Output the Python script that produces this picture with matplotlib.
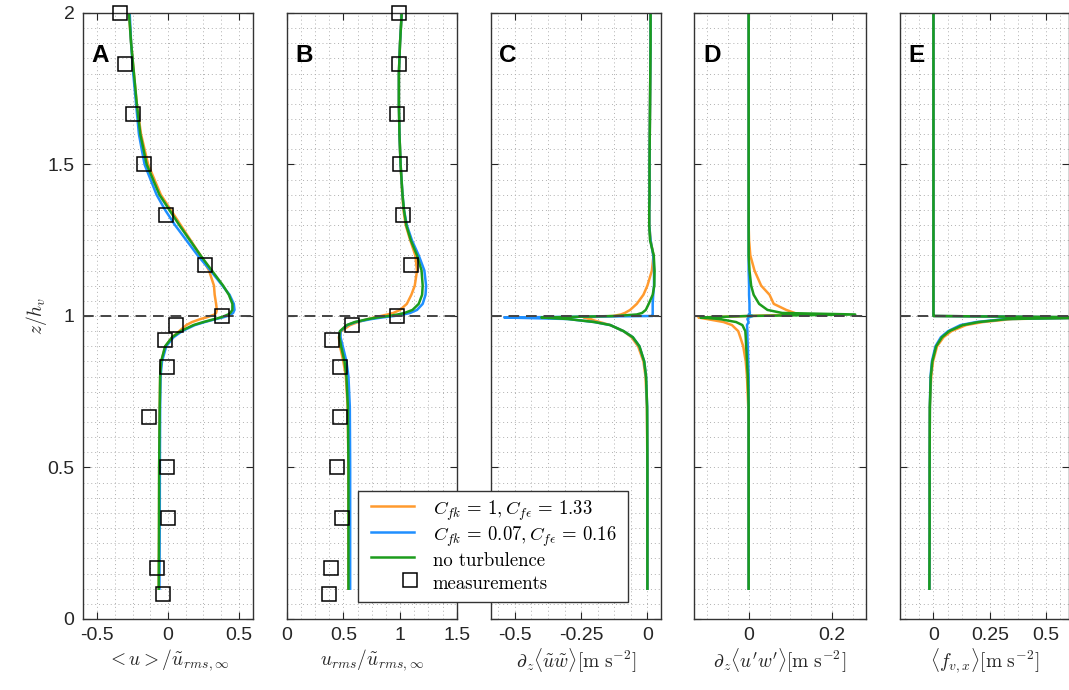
import numpy as np
import matplotlib
matplotlib.use("Agg")
import matplotlib.pyplot as plt
from matplotlib.ticker import MultipleLocator
from matplotlib.lines import Line2D
from matplotlib.patches import Rectangle
from matplotlib.legend_handler import HandlerLine2DCompound

plt.rcParams['mathtext.fontset'] = 'cm'
plt.rcParams['font.family'] = ['Liberation Sans', 'DejaVu Sans']

# heights shared by all simulated profiles
z_prof = [0.1, 0.3, 0.5, 0.7, 0.8, 0.85, 0.9, 0.93, 0.95, 0.97, 0.98, 0.99, 0.995, 1.0,
          1.005, 1.01, 1.02, 1.04, 1.07, 1.1, 1.15, 1.2, 1.25, 1.3, 1.35, 1.4, 1.5, 1.6,
          1.7, 1.8, 1.9, 2.0]

# panel A: mean velocity
a_orange = [-0.065, -0.063, -0.062, -0.058, -0.055, -0.047, -0.018, 0.03, 0.08, 0.13, 0.17, 0.23, 0.27, 0.30,
            0.33, 0.34, 0.345, 0.34, 0.33, 0.325, 0.29, 0.23, 0.16, 0.09, 0.02, -0.05, -0.14, -0.19,
            -0.22, -0.24, -0.26, -0.275]
a_blue = [-0.06, -0.058, -0.057, -0.055, -0.052, -0.042, -0.012, 0.04, 0.10, 0.19, 0.26, 0.34, 0.385, 0.42,
          0.445, 0.46, 0.47, 0.465, 0.435, 0.385, 0.30, 0.21, 0.13, 0.05, -0.02, -0.08, -0.165, -0.205,
          -0.225, -0.245, -0.26, -0.27]
a_green = [-0.065, -0.063, -0.062, -0.058, -0.055, -0.048, -0.02, 0.03, 0.09, 0.18, 0.25, 0.33, 0.37, 0.40,
           0.425, 0.44, 0.455, 0.455, 0.43, 0.39, 0.31, 0.23, 0.155, 0.08, 0.01, -0.06, -0.15, -0.195,
           -0.22, -0.24, -0.26, -0.275]

# panel B: rms velocity
b_orange = [0.545, 0.545, 0.545, 0.538, 0.522, 0.50, 0.47, 0.46, 0.48, 0.56, 0.63, 0.72, 0.77, 0.83,
            0.89, 0.94, 1.0, 1.06, 1.10, 1.13, 1.15, 1.135, 1.09, 1.05, 1.03, 1.02, 1.005, 0.995,
            0.99, 0.99, 1.0, 1.015]
b_blue = [0.56, 0.56, 0.56, 0.557, 0.545, 0.527, 0.495, 0.475, 0.475, 0.535, 0.61, 0.75, 0.84, 0.95,
          1.03, 1.09, 1.15, 1.20, 1.225, 1.23, 1.215, 1.165, 1.105, 1.06, 1.035, 1.022, 1.005, 0.995,
          0.99, 0.99, 1.0, 1.015]
b_green = [0.545, 0.545, 0.545, 0.54, 0.527, 0.51, 0.48, 0.465, 0.47, 0.53, 0.60, 0.72, 0.80, 0.90,
           0.98, 1.04, 1.11, 1.165, 1.195, 1.20, 1.19, 1.15, 1.095, 1.055, 1.035, 1.022, 1.005, 0.995,
           0.99, 0.99, 1.0, 1.015]

# panel C: dispersive stress gradient
c_orange = [0.0, 0.0, 0.0, -0.002, -0.007, -0.015, -0.035, -0.06, -0.09, -0.14, -0.18, -0.22, -0.24, -0.13,
            -0.10, -0.085, -0.065, -0.04, -0.015, 0.0, 0.017, 0.023, 0.012, 0.007, 0.007, 0.008, 0.008, 0.009,
            0.01, 0.011, 0.012, 0.012]
c_blue = [0.0, 0.0, 0.0, -0.001, -0.005, -0.012, -0.03, -0.055, -0.09, -0.14, -0.2, -0.3, -0.54, 0.02,
          0.02, 0.02, 0.02, 0.02, 0.022, 0.025, 0.025, 0.022, 0.012, 0.007, 0.007, 0.008, 0.008, 0.009,
          0.01, 0.011, 0.012, 0.012]
c_green = [0.0, 0.0, 0.0, -0.001, -0.005, -0.012, -0.03, -0.055, -0.09, -0.14, -0.2, -0.3, -0.40, -0.12,
           -0.04, -0.02, -0.006, 0.005, 0.02, 0.026, 0.027, 0.024, 0.01, 0.007, 0.007, 0.008, 0.008, 0.009,
           0.01, 0.011, 0.012, 0.012]

# panel D: turbulent stress gradient
d_orange = [0.0, 0.0, 0.0, -0.001, -0.004, -0.007, -0.013, -0.02, -0.025, -0.04, -0.06, -0.10, -0.12, 0.0,
            0.12, 0.11, 0.09, 0.06, 0.05, 0.03, 0.014, 0.004, 0.001, 0.0, 0.0, 0.0, 0.0, 0.0,
            0.0, 0.0, 0.0, 0.0]
d_blue = [0.0, 0.0, 0.0, 0.0, 0.0, -0.001, -0.002, -0.003, -0.003, -0.004, 0.0, -0.003, 0.0, 0.01,
          0.0, 0.003, 0.002, 0.002, 0.001, 0.001, 0.0, 0.0, 0.0, 0.0, 0.0, 0.0, 0.0, 0.0,
          0.0, 0.0, 0.0, 0.0]
d_green = [0.0, 0.0, 0.0, 0.0, -0.002, -0.004, -0.006, -0.007, -0.008, -0.015, -0.03, -0.07, -0.115, 0.0,
           0.255, 0.08, 0.045, 0.025, 0.012, 0.006, 0.002, 0.0, 0.0, 0.0, 0.0, 0.0, 0.0, 0.0,
           0.0, 0.0, 0.0, 0.0]

# panel E: vegetation drag
e_orange = [-0.018, -0.017, -0.017, -0.016, -0.01, -0.002, 0.016, 0.045, 0.08, 0.145, 0.22, 0.35, 0.75, 0.0,
            0.0, 0.0, 0.0, 0.0, 0.0, 0.0, 0.0, 0.0, 0.0, 0.0, 0.0, 0.0, 0.0, 0.0,
            0.0, 0.0, 0.0, 0.0]
e_blue = [-0.018, -0.017, -0.017, -0.016, -0.013, -0.007, 0.009, 0.033, 0.065, 0.12, 0.19, 0.32, 0.75, 0.0,
          0.0, 0.0, 0.0, 0.0, 0.0, 0.0, 0.0, 0.0, 0.0, 0.0, 0.0, 0.0, 0.0, 0.0,
          0.0, 0.0, 0.0, 0.0]
e_green = [-0.018, -0.017, -0.017, -0.016, -0.012, -0.005, 0.012, 0.038, 0.07, 0.13, 0.20, 0.33, 0.75, 0.0,
           0.0, 0.0, 0.0, 0.0, 0.0, 0.0, 0.0, 0.0, 0.0, 0.0, 0.0, 0.0, 0.0, 0.0,
           0.0, 0.0, 0.0, 0.0]

# measurements
z_meas = [2.0, 1.833, 1.667, 1.5, 1.333, 1.167, 1.0, 0.97, 0.92, 0.833, 0.667, 0.5, 0.333, 0.167, 0.083]
u_meas = [-0.34, -0.30, -0.245, -0.17, -0.015, 0.265, 0.385, 0.06, -0.02, -0.01, -0.135, -0.01, 0.0, -0.075, -0.035]
urms_meas = [0.99, 0.99, 0.976, 1.0, 1.024, 1.10, 0.976, 0.574, 0.40, 0.47, 0.47, 0.447, 0.49, 0.39, 0.376]

panel_names = ['A', 'B', 'C', 'D', 'E']
xlabels = [r'$<u>/\tilde{u}_{rms,\infty}$',
           r'$u_{rms}/\tilde{u}_{rms,\infty}$',
           r'$\partial_z\langle\tilde{u}\tilde{w}\rangle[\mathrm{m\ s^{-2}}]$',
           r"$\partial_z\langle u'w'\rangle[\mathrm{m\ s^{-2}}]$",
           r'$\langle f_{v,x}\rangle[\mathrm{m\ s^{-2}}]$']
xlims = [(-0.6, 0.6), (0, 1.5), (-0.59, 0.05), (-0.13, 0.28), (-0.15, 0.6)]
xticks = [[-0.5, 0, 0.5], [0, 0.5, 1, 1.5], [-0.5, -0.25, 0], [0, 0.2], [0, 0.25, 0.5]]
xticklabels = [['-0.5', '0', '0.5'], ['0', '0.5', '1', '1.5'], ['-0.5', '-0.25', '0'], ['0', '0.2'], ['0', '0.25', '0.5']]
xminor = [0.125, 0.125, 0.0625, 0.05, 0.0625]
yticks = [0, 0.5, 1, 1.5, 2]
yticklabels = ['0', '0.5', '1', '1.5', '2']

orange = '#FF9A2E'
blue = '#1F8FFF'
green = '#1C9C1C'

curves = [(a_orange, a_blue, a_green), (b_orange, b_blue, b_green), (c_orange, c_blue, c_green),
          (d_orange, d_blue, d_green), (e_orange, e_blue, e_green)]
lefts = [0.0776, 0.2682, 0.4593, 0.6495, 0.8416]
widths = [0.1590, 0.1590, 0.1587, 0.1603, 0.1580]

fig = plt.figure(figsize=(10.69, 6.90), dpi=100)
tc = '#262626'
axes = []
for i in range(5):
    ax = fig.add_axes([lefts[i], 0.1029, widths[i], 0.8783])
    axes.append(ax)
    co, cb, cg = curves[i]
    ax.plot(co, z_prof, color=orange, lw=1.8)
    ax.plot(cb, z_prof, color=blue, lw=1.8)
    ax.plot(cg, z_prof, color=green, lw=1.8)
    ax.axhline(1.0, color='#444444', lw=1.4, ls=(0, (5.5, 3.5)), zorder=5)
    if i == 0:
        ax.plot(u_meas, z_meas, 's', mfc='none', mec='k', ms=10.5, mew=1.1, clip_on=False, zorder=6)
    if i == 1:
        ax.plot(urms_meas, z_meas, 's', mfc='none', mec='k', ms=10.5, mew=1.1, clip_on=False, zorder=6)
    ax.set_xlim(xlims[i])
    ax.set_ylim(0, 2)
    ax.set_xticks(xticks[i])
    ax.set_xticklabels(xticklabels[i])
    ax.set_yticks(yticks)
    if i == 0:
        ax.set_yticklabels(yticklabels)
        ax.set_ylabel(r'$z/h_v$', fontsize=14, color=tc, labelpad=-1)
    else:
        ax.set_yticklabels([])
    ax.xaxis.set_minor_locator(MultipleLocator(xminor[i]))
    ax.yaxis.set_minor_locator(MultipleLocator(0.05))
    ax.grid(True, which='both', ls=(0, (1, 3)), lw=0.7, color='#b0b0b0')
    ax.set_axisbelow(True)
    ax.tick_params(which='major', direction='in', top=True, right=True, length=5,
                   labelsize=14, colors=tc, pad=6)
    ax.tick_params(which='minor', length=0)
    for s in ax.spines.values():
        s.set_color('#333333')
        s.set_linewidth(1.0)
    ax.set_xlabel(xlabels[i], fontsize=14, color=tc, labelpad=2)
    ax.text(0.05, 0.93, panel_names[i], transform=ax.transAxes, fontsize=17.5,
            fontweight='bold', va='center', ha='left', color='k')


class RightMarker(HandlerLine2DCompound):
    # put the single legend marker near the right end of the handle, as in the original
    def get_xdata(self, legend, xdescent, ydescent, width, height, fontsize):
        xdata, _ = super().get_xdata(legend, xdescent, ydescent, width, height, fontsize)
        return xdata, np.array([0.9 * width - xdescent])


handles = [Line2D([], [], color=orange, lw=1.8),
           Line2D([], [], color=blue, lw=1.8),
           Line2D([], [], color=green, lw=1.8),
           Line2D([], [], ls='none', marker='s', mfc='none', mec='k', ms=10, mew=1.1)]
labels = [r'$C_{fk}\,=\,1, C_{f\epsilon}\,=\,1.33$', r'$C_{fk}\,=\,0.07, C_{f\epsilon}\,=\,0.16$',
          'no turbulence', 'measurements']

# legend frame (white box with dark edge), drawn over the axes
frame = Rectangle((358 / 1069, 1 - 602 / 690), 270 / 1069, 111 / 690, transform=fig.transFigure,
                  facecolor='white', edgecolor='#333333', lw=1.0, zorder=9)
fig.patches.append(frame)

leg = fig.legend(handles, labels, loc='upper left', bbox_to_anchor=(371 / 1069, 1 - 497 / 690),
                 prop={'family': 'cmr10', 'size': 13.5}, frameon=False, handlelength=2.3,
                 handleheight=1.5, borderpad=0, labelspacing=0.0, handletextpad=1.0,
                 borderaxespad=0, handler_map={handles[3]: RightMarker(numpoints=1)})
leg.set_zorder(10)

fig.savefig('out.png', dpi=100)
